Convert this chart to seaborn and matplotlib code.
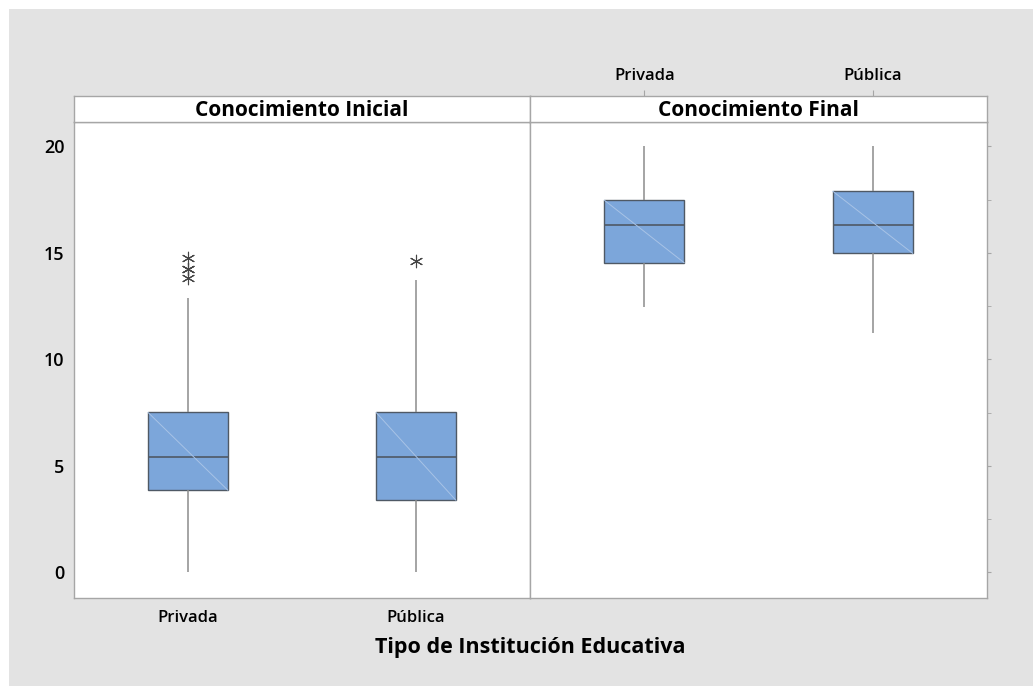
import numpy as np
import pandas as pd
import seaborn as sns
from matplotlib import pyplot as plt
from matplotlib.patches import Rectangle

# five-number summaries (whisker low, Q1, median, Q3, whisker high)
grupos = ["Privada", "Pública"]
inicial_min = [0.0, 0.0]
inicial_q1 = [3.86, 3.39]
inicial_med = [5.43, 5.43]
inicial_q3 = [7.51, 7.51]
inicial_max = [12.88, 13.72]
final_min = [12.45, 11.23]
final_q1 = [14.54, 14.98]
final_med = [16.30, 16.30]
final_q3 = [17.48, 17.90]
final_max = [20.0, 20.0]

# outliers (asterisks)
outlier_grupo = ["Privada", "Privada", "Privada", "Privada", "Pública"]
outlier_valor = [14.76, 14.24, 14.24, 13.82, 14.6]

BOX = "#7ca6da"
EDGE = "#4f5965"
WHISK = "#8c8c8c"
SPINE = "#a6a6a6"
BG = "#e3e3e3"


def summary_df(mins, q1s, meds, q3s, maxs):
    rows = []
    for g, a, b, c, d, e in zip(grupos, mins, q1s, meds, q3s, maxs):
        for v in (a, b, c, d, e):
            rows.append({"grupo": g, "valor": v})
    return pd.DataFrame(rows)


df_ini = summary_df(inicial_min, inicial_q1, inicial_med, inicial_q3, inicial_max)
df_fin = summary_df(final_min, final_q1, final_med, final_q3, final_max)
df_out = pd.DataFrame({"grupo": outlier_grupo, "valor": outlier_valor})

sns.set_style("white")
plt.rcParams["font.family"] = ["Open Sans", "DejaVu Sans"]
plt.rcParams["text.color"] = "black"
plt.rcParams["xtick.labelcolor"] = "black"
plt.rcParams["ytick.labelcolor"] = "black"

fig = plt.figure(figsize=(10.35, 6.86), dpi=100, facecolor="white")
fig.patches.append(Rectangle((9 / 1035, 0), 1024 / 1035, 1 - 9 / 686,
                             transform=fig.transFigure, facecolor=BG,
                             edgecolor="none", zorder=-10))

W, H = 1035, 686
ax_bottom = 1 - 598 / H
ax_height = (598 - 122) / H
strip_h = 26 / H
panels = [
    (74, 456, df_ini, "Conocimiento Inicial"),
    (530, 457, df_fin, "Conocimiento Final"),
]

for i, (x0, w, df, title) in enumerate(panels):
    ax = fig.add_axes([x0 / W, ax_bottom, w / W, ax_height])
    sns.boxplot(
        data=df, x="grupo", y="valor", order=grupos, ax=ax,
        color=BOX, saturation=1, width=0.35, whis=(0, 100),
        showcaps=False, linewidth=1,
        boxprops=dict(edgecolor=EDGE, facecolor=BOX),
        medianprops=dict(color=EDGE, linewidth=1.2),
        whiskerprops=dict(color=WHISK, linewidth=1.1),
    )
    # light diagonal on each box, as in the original style
    for p in list(ax.patches):
        ext = p.get_path().get_extents()
        ax.plot([ext.x0, ext.x1], [ext.y1, ext.y0], color="#a8c3e6",
                lw=0.7, zorder=p.get_zorder() + 0.1)
    if i == 0:
        sns.stripplot(data=df_out, x="grupo", y="valor", order=grupos, ax=ax,
                      jitter=False, marker=(6, 2, 0), size=9, color="#454545",
                      linewidth=0.8)
    ax.set_xlim(-0.5, 1.5)
    ax.set_ylim(-1.2, 21.15)
    ax.set_yticks([0, 5, 10, 15, 20])
    ax.set_yticks([2.5, 7.5, 12.5, 17.5], minor=True)
    ax.set_xlabel("")
    ax.set_ylabel("")
    for s in ax.spines.values():
        s.set_color(SPINE)
        s.set_linewidth(1)
    ax.tick_params(axis="both", which="both", color=SPINE, direction="out")

    # strip header
    sax = fig.add_axes([x0 / W, ax_bottom + ax_height, w / W, strip_h], sharex=ax)
    sax.set_facecolor("white")
    sax.set_yticks([])
    for s in sax.spines.values():
        s.set_color(SPINE)
        s.set_linewidth(1)
    sax.text(0.5, 0.45, title, transform=sax.transAxes, ha="center", va="center",
             fontsize=15, fontweight="bold")

    if i == 0:
        ax.tick_params(axis="y", which="major", length=4, labelsize=13, pad=3)
        ax.tick_params(axis="y", which="minor", length=3)
        ax.tick_params(axis="x", length=4, labelsize=12, pad=5)
        for t in ax.get_yticklabels() + ax.get_xticklabels():
            t.set_fontweight("semibold")
        sax.tick_params(axis="x", bottom=False, labelbottom=False)
    else:
        ax.yaxis.tick_right()
        ax.tick_params(axis="y", which="both", length=3, labelright=False)
        ax.tick_params(axis="x", bottom=False, labelbottom=False)
        sax.xaxis.tick_top()
        sax.tick_params(axis="x", length=4, labelsize=12, pad=5, color=SPINE)
        sax.set_xticks([0, 1])
        sax.set_xticklabels(grupos, fontweight="semibold")

fig.text(530 / W, 1 - 648 / H, "Tipo de Institución Educativa", ha="center",
         va="center", fontsize=15.5, fontweight="bold")

fig.savefig("out.png", dpi=100, facecolor=fig.get_facecolor())
